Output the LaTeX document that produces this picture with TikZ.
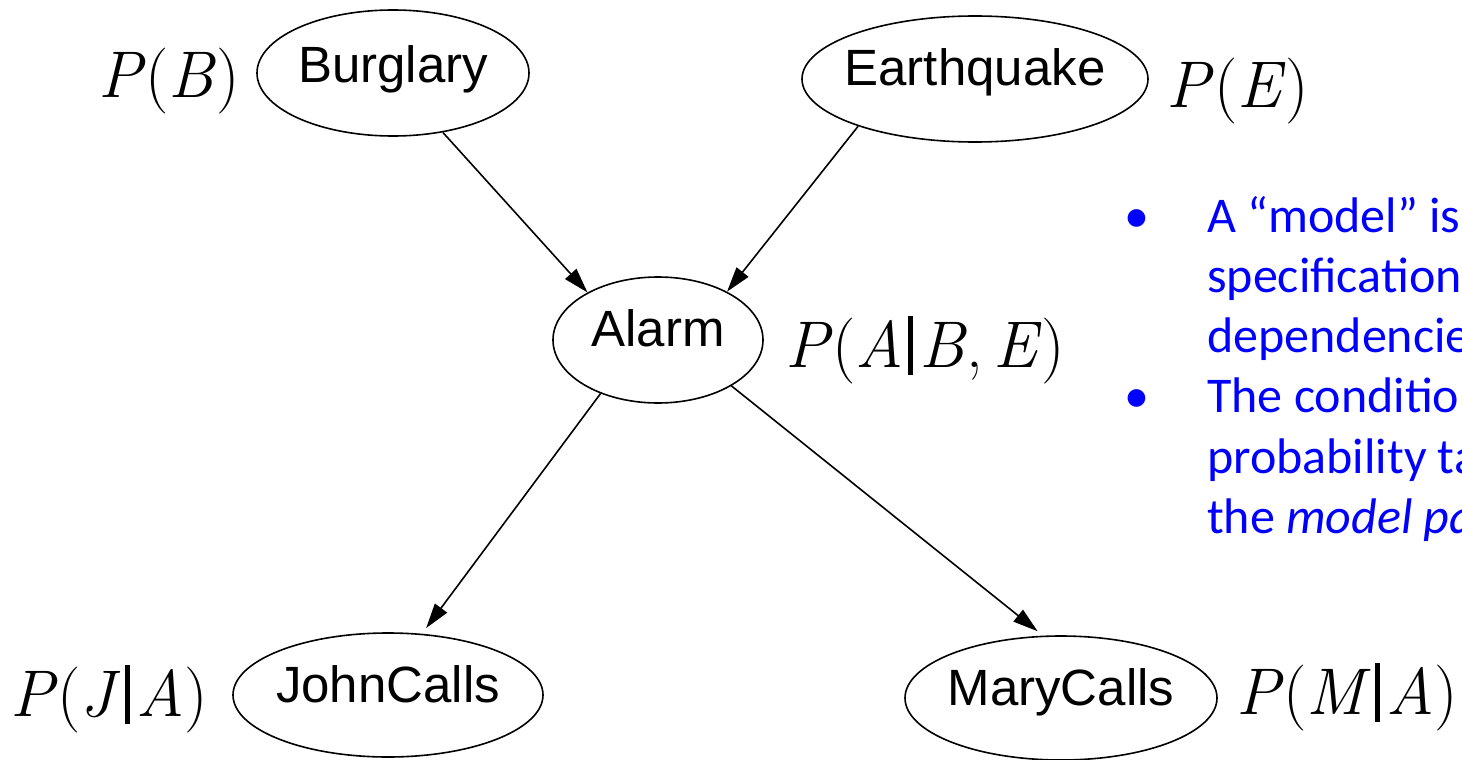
\documentclass[tikz,border=0pt]{standalone}
\usepackage{fontspec}
\newfontfamily\arialf{Liberation Sans}
\newfontfamily\carlito{Carlito}
\usetikzlibrary{shapes.geometric,arrows.meta}
\definecolor{txtblue}{RGB}{0,0,255}
\newcommand{\pv}[1]{{\itshape #1\/}}
\newcommand{\givn}{\kern0.06em\rule[-0.12em]{0.07em}{0.9em}\kern0.1em}
\tikzset{
  bnode/.style={ellipse, draw, line width=1.6pt, inner sep=0pt, minimum height=126pt},
  lbl/.style={font=\arialf\fontsize{51}{60}\selectfont, anchor=base, inner sep=0pt},
  prob/.style={font=\rmfamily\fontsize{66}{72}\selectfont, anchor=base, inner sep=0pt},
  arr/.style={line width=1.6pt, -{Triangle[length=25pt,width=15pt]}},
  bl/.style={font=\carlito\fontsize{50}{60}\selectfont, text=txtblue, anchor=base west, inner sep=0pt},
  bul/.style={font=\carlito\fontsize{50}{60}\selectfont, text=txtblue, anchor=base, inner sep=0pt},
}
\begin{document}
\begin{tikzpicture}[x=1pt,y=-1pt]
\useasboundingbox (0,0) rectangle (1462,760);
\clip (0,0) rectangle (1462,760);
% nodes
\node[bnode, minimum width=272pt] (burg) at (393,73) {};
\node[bnode, minimum width=346pt] (eq) at (975,79) {};
\node[bnode, minimum width=210pt] (alarm) at (658,340) {};
\node[bnode, minimum width=310pt, minimum height=124pt] (john) at (388,695) {};
\node[bnode, minimum width=312pt, minimum height=124pt] (mary) at (1061,698) {};
\node[lbl, yshift=-9pt] (burgt) at (burg.center) {Burglary};
\node[lbl, yshift=-6pt] (eqt) at (eq.center) {Earthquake};
\node[lbl, yshift=-6pt] (alarmt) at (alarm.center) {Alarm};
\node[lbl, yshift=-7pt] (johnt) at (john.center) {JohnCalls};
\node[lbl, yshift=-7pt] (maryt) at (mary.center) {MaryCalls};
% arrows
\draw[arr] (burg.-50) -- (alarm.146);
\draw[arr] (eq.-158) -- (alarm.35);
\draw[arr, shorten >=7pt] (alarm.-137.5) -- (john.61.7);
\draw[arr, shorten >=7pt] (alarm.-32.6) -- (mary.106.7);
% probability labels
\node[prob] (pb) at (169,97) {\pv{P}(\pv{B})};
\node[prob] (pe) at (1238,107) {\pv{P}(\pv{E})};
\node[prob] (pa) at (925,367) {\pv{P}(\pv{A}\givn\pv{B},\kern0.15em\pv{E})};
\node[prob] (pj) at (109,716) {\pv{P}(\pv{J}\givn\pv{A})};
\node[prob] (pm) at (1347,714) {\pv{P}(\pv{M}\givn\pv{A})};
% blue text
\node[bul] (b1) at (1137,232) {•};
\node[bul] (b2) at (1137,412) {•};
\node[bl] (l1) at (1207,232) {A “model” is};
\node[bl] (l2) at (1207,292) {speci{}fication};
\node[bl] (l3) at (1207,352) {dependencie};
\node[bl] (l4) at (1207,412) {The conditio};
\node[bl] (l5) at (1207,473) {probability ta};
\node[bl] (l6) at (1207,533) {the \textit{model pa}};
\end{tikzpicture}
\end{document}
